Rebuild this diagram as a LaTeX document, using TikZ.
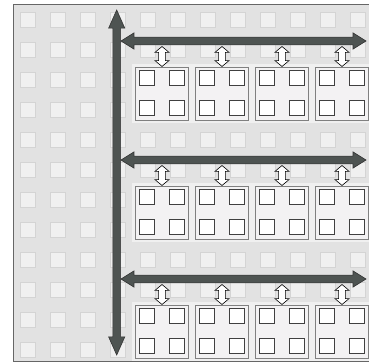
\documentclass[tikz,border=0pt]{standalone}
\usepackage{tikz}
\usetikzlibrary{positioning,calc}
\usetikzlibrary{shapes.arrows}
\definecolor{BusGray}{RGB}{78,84,82}
\definecolor{PanelGray}{RGB}{226,226,226}
\definecolor{SlotGray}{RGB}{240,240,240}
\definecolor{CardGray}{RGB}{243,242,243}
\tikzset{
  slot/.style={draw=black!17,fill=SlotGray,line width=1pt,minimum size=15pt,inner sep=0pt},
  bus/.style={double arrow,draw=black!80,fill=BusGray,line width=0.6pt,inner sep=3.6pt,
    double arrow head extend=4.2pt},
  card/.style={draw=black!50,fill=CardGray,line width=1pt,minimum size=53pt,inner sep=0pt},
  chip/.style={draw=black!75,fill=white,line width=1.4pt,minimum size=15pt,inner sep=0pt},
  link/.style={double arrow,draw=black,fill=white,line width=0.6pt,inner sep=3.1pt,
    double arrow head extend=3.6pt,double arrow tip angle=100,minimum height=20pt,rotate=90},
}

\begin{document}
\begin{tikzpicture}[x=1pt,y=-1pt]
\useasboundingbox (0,0) rectangle (369,362);
\clip (0,0) rectangle (369,362);
% backplane with empty slots
\draw[draw=black!60,fill=PanelGray,line width=1pt] (13,4) rectangle (380,361);
\foreach \i in {0,...,11}
  \foreach \j in {0,...,11}
    \node[slot] (s\i-\j) at (28+30*\i,20+30*\j) {};
% light strips under the cards
\foreach \y in {64,183,302}
  \fill[SlotGray] (132,\y) rectangle (380,\y+59);
% cards
\foreach \r/\y in {1/94,2/213,3/332}
  \foreach \c/\x in {1/162,2/222,3/282,4/342} {
    \node[card] (b\r-\c) at (\x,\y) {};
    \foreach \dx in {-15,15}
      \foreach \dy in {-16,14}
        \node[chip] (b\r-\c-\dx-\dy) at ($(b\r-\c)+(\dx,\dy)$) {};
  }
% buses
\node[bus,minimum height=345pt,double arrow tip angle=48,rotate=90] (vbus) at (116.7,182.5) {};
\foreach \r/\y in {1/41,2/160,3/279}
  \node[bus,minimum height=245pt,double arrow tip angle=64] (bus\r) at (243.5,\y) {};
% links from bus to card
\foreach \r in {1,2,3}
  \foreach \c in {1,...,4}
    \node[link] (l\r-\c) at ($(b\r-\c.north)+(0,-10.5)$) {};
\end{tikzpicture}
\end{document}
